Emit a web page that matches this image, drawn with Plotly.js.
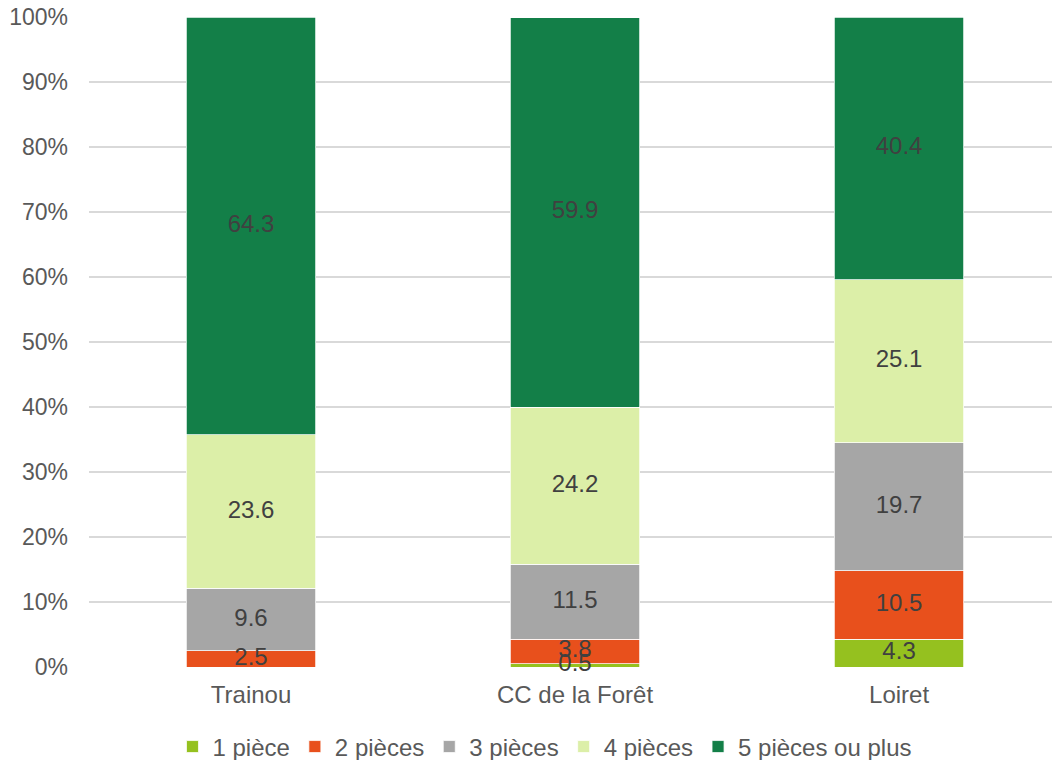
<!DOCTYPE html>
<html>
<head>
<meta charset="utf-8">
<script src="https://cdn.plot.ly/plotly-3.0.1.min.js"></script>
<style>html,body{margin:0;padding:0;background:#fff;}#chart{width:1052px;height:760px;}</style>
</head>
<body>
<div id="chart"></div>
<script>
const categories = ["Trainou", "CC de la Forêt", "Loiret"];
const seriesNames = ["1 pièce", "2 pièces", "3 pièces", "4 pièces", "5 pièces ou plus"];
const piece1 = [0, 0.5, 4.3];
const piece2 = [2.5, 3.8, 10.5];
const piece3 = [9.6, 11.5, 19.7];
const piece4 = [23.6, 24.2, 25.1];
const piece5 = [64.3, 59.9, 40.4];
const colors = ["#95C11F", "#E8501C", "#A6A6A6", "#DCEFA8", "#137F48"];
const yTickVals = [0, 10, 20, 30, 40, 50, 60, 70, 80, 90, 100];
const yTickText = ["0%", "10%", "20%", "30%", "40%", "50%", "60%", "70%", "80%", "90%", "100%"];

const FONT = "Liberation Sans, Arial, sans-serif";
const allSeries = [piece1, piece2, piece3, piece4, piece5];
const xIdx = categories.map((c, i) => i);

const barTraces = allSeries.map((vals, s) => ({
  type: "bar",
  name: seriesNames[s],
  x: xIdx,
  y: vals,
  width: 0.4,
  marker: {color: colors[s], line: {color: "#ffffff", width: 0.75}},
  hoverinfo: "name+y"
}));

// data labels: centred in each segment, drawn above all bars
const lx = [], ly = [], lt = [];
const cum = xIdx.map(() => 0);
allSeries.forEach(vals => {
  vals.forEach((v, i) => {
    if (v !== 0) {
      lx.push(i);
      ly.push(cum[i] + v / 2);
      lt.push(v.toFixed(1));
    }
    cum[i] += v;
  });
});
const labelTrace = {
  type: "scatter",
  mode: "text",
  x: lx,
  y: ly,
  text: lt,
  textposition: "middle center",
  textfont: {family: FONT, size: 24, color: "#404040"},
  showlegend: false,
  hoverinfo: "skip",
  cliponaxis: false
};

const layout = {
  width: 1052,
  height: 760,
  barmode: "stack",
  margin: {l: 89, r: 0, t: 17, b: 93, autoexpand: false},
  paper_bgcolor: "#ffffff",
  plot_bgcolor: "#ffffff",
  font: {family: FONT, size: 23, color: "#595959"},
  xaxis: {
    range: [-0.5, 2.472],
    tickvals: xIdx,
    ticktext: categories,
    showgrid: false,
    zeroline: false,
    showline: false,
    ticks: "",
    ticklabelstandoff: 11,
    tickfont: {size: 24, color: "#595959"},
    fixedrange: true
  },
  yaxis: {
    range: [0, 100],
    tickvals: yTickVals,
    ticktext: yTickText,
    showgrid: true,
    gridcolor: "#D9D9D9",
    gridwidth: 1.5,
    zeroline: false,
    showline: false,
    ticks: "",
    ticklabelstandoff: 20,
    tickfont: {size: 23, color: "#595959"},
    fixedrange: true
  },
  showlegend: true,
  legend: {
    orientation: "h",
    x: 0.4735,
    xanchor: "center",
    y: -0.123,
    yanchor: "middle",
    font: {size: 24, color: "#595959"},
    traceorder: "normal",
    itemwidth: 30
  }
};

Plotly.newPlot("chart", barTraces.concat([labelTrace]), layout, {displayModeBar: false, staticPlot: true});
</script>
</body>
</html>
